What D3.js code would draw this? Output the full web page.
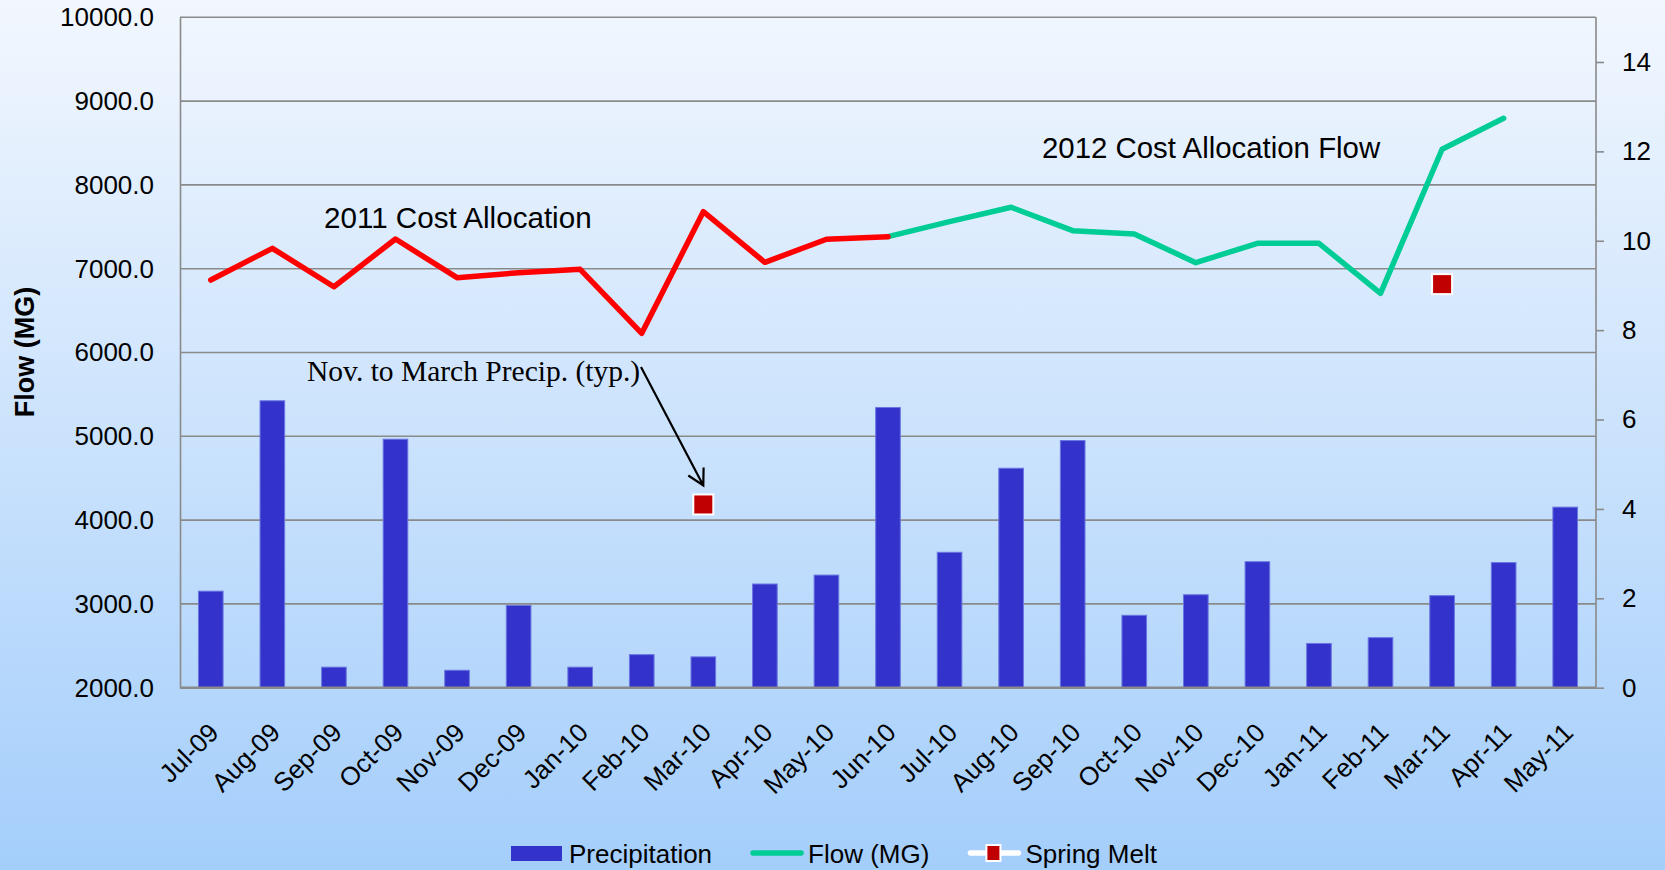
<!DOCTYPE html>
<meta charset="utf-8">
<style>
    body { margin:0; padding:0; }
    svg { display:block; font-family:'Liberation Sans', Arial, sans-serif; }
</style>
<body>
<script src="https://cdn.jsdelivr.net/npm/d3@7"></script>
<script>
var months = ["Jul-09","Aug-09","Sep-09","Oct-09","Nov-09","Dec-09","Jan-10","Feb-10","Mar-10","Apr-10",
    "May-10","Jun-10","Jul-10","Aug-10","Sep-10","Oct-10","Nov-10","Dec-10","Jan-11","Feb-11",
    "Mar-11","Apr-11","May-11"];
// precipitation, right axis
var precipitation = [2.16, 6.42, 0.46, 5.56, 0.39, 1.84, 0.46, 0.74, 0.69, 2.32,
    2.52, 6.27, 3.03, 4.91, 5.53, 1.62, 2.08, 2.82, 0.99, 1.12,
    2.06, 2.80, 4.04];
// flow (MG), left axis
var flowMG = [6865, 7243, 6785, 7354, 6893, 6952, 6993, 6229, 7680, 7076,
    7351, 7382, 7561, 7733, 7454, 7414, 7072, 7303, 7303, 6706,
    8425, 8795, null];
// Nov-Mar precipitation totals, right axis
var springMelt = [null, null, null, null, null, null, null, null, 4.10, null,
    null, null, null, null, null, null, null, null, null, null,
    9.03, null, null];
var split2011 = "Jun-10";   // 2011 cost allocation runs up to here
var leftTicks = [2000, 3000, 4000, 5000, 6000, 7000, 8000, 9000, 10000];
var rightTicks = [0, 2, 4, 6, 8, 10, 12, 14];
var legendItems = ["Precipitation", "Flow (MG)", "Spring Melt"];

var width = 1665, height = 870;
var pLeft = 180, pRight = 1596, pTop = 17.3, pBottom = 687.7;

var svg = d3.select("body").append("svg")
    .attr("width", width)
    .attr("height", height);

var defs = svg.append("defs");
var grad = defs.append("linearGradient").attr("id", "bg")
    .attr("x1", 0).attr("y1", 0).attr("x2", 0).attr("y2", 1);
grad.append("stop").attr("offset", "0%").attr("stop-color", "#f2f7fe");
grad.append("stop").attr("offset", "100%").attr("stop-color", "#a4cefb");

svg.append("rect")
    .attr("width", width).attr("height", height)
    .attr("fill", "url(#bg)");

var x = d3.scaleBand().domain(months).range([pLeft, pRight])
    .paddingInner(0.6).paddingOuter(0.3);
var yL = d3.scaleLinear().domain([2000, 10000]).range([pBottom, pTop]);
var yR = d3.scaleLinear().domain([0, 15]).range([pBottom, pTop]);
var cx = function(m) { return x(m) + x.bandwidth() / 2; };

// gridlines
svg.append("g").selectAll("line").data(leftTicks).join("line")
    .attr("x1", pLeft).attr("x2", pRight)
    .attr("y1", function(d) { return yL(d); })
    .attr("y2", function(d) { return yL(d); })
    .attr("stroke", "#8a8a8a").attr("stroke-width", 1.6);

// left axis
var gl = svg.append("g")
    .attr("transform", "translate(" + pLeft + ",0)")
    .call(d3.axisLeft(yL).tickValues(leftTicks).tickFormat(d3.format(".1f")).tickSize(0).tickPadding(26));
gl.select(".domain").attr("stroke", "#8a8a8a").attr("stroke-width", 1.6);
gl.selectAll("text").attr("font-size", 26).attr("fill", "#000")
    .attr("font-family", "'Liberation Sans', Arial, sans-serif");

// right axis
var gr = svg.append("g")
    .attr("transform", "translate(" + pRight + ",0)")
    .call(d3.axisRight(yR).tickValues(rightTicks).tickSize(8).tickPadding(18));
gr.select(".domain").attr("stroke", "#8a8a8a").attr("stroke-width", 1.6).attr("d", "M0," + pTop + "V" + pBottom);
gr.selectAll(".tick line").attr("stroke", "#8a8a8a").attr("stroke-width", 1.6);
gr.selectAll("text").attr("font-size", 26).attr("fill", "#000")
    .attr("font-family", "'Liberation Sans', Arial, sans-serif");

// bars
svg.append("g").selectAll("rect").data(months).join("rect")
    .attr("x", function(d) { return x(d); })
    .attr("width", x.bandwidth())
    .attr("y", function(d, i) { return yR(precipitation[i]); })
    .attr("height", function(d, i) { return pBottom - yR(precipitation[i]); })
    .attr("fill", "#3333cc")
    .attr("stroke", "#6a76e0").attr("stroke-width", 1);

// bottom axis
var gb = svg.append("g")
    .attr("transform", "translate(0," + pBottom + ")")
    .call(d3.axisBottom(x).tickSize(0));
gb.select(".domain").attr("stroke", "#8a8a8a").attr("stroke-width", 2.5)
    .attr("d", "M" + pLeft + ",0H" + pRight);
gb.selectAll("text")
    .attr("font-size", 26).attr("fill", "#000")
    .attr("font-family", "'Liberation Sans', Arial, sans-serif")
    .attr("text-anchor", "end")
    .attr("transform", "translate(3,40) rotate(-45)")
    .attr("dy", "0.35em").attr("y", 0);

// flow lines
var pts = months.map(function(m, i) { return { m: m, v: flowMG[i] }; })
    .filter(function(d) { return d.v != null; });
var splitIdx = months.indexOf(split2011);
var line = d3.line().x(function(d) { return cx(d.m); }).y(function(d) { return yL(d.v); });
svg.append("path").datum(pts.slice(splitIdx))
    .attr("d", line).attr("fill", "none")
    .attr("stroke", "#00cc96").attr("stroke-width", 5.5)
    .attr("stroke-linejoin", "round").attr("stroke-linecap", "round");
svg.append("path").datum(pts.slice(0, splitIdx + 1))
    .attr("d", line).attr("fill", "none")
    .attr("stroke", "#ff0000").attr("stroke-width", 5.5)
    .attr("stroke-linejoin", "round").attr("stroke-linecap", "round");

// spring melt markers
var melt = months.map(function(m, i) { return { m: m, v: springMelt[i] }; })
    .filter(function(d) { return d.v != null; });
svg.append("g").selectAll("rect").data(melt).join("rect")
    .attr("x", function(d) { return cx(d.m) - 10; })
    .attr("y", function(d) { return yR(d.v) - 10; })
    .attr("width", 20).attr("height", 20)
    .attr("fill", "#c00000").attr("stroke", "#ffffff").attr("stroke-width", 2);

// annotations
svg.append("text").attr("x", 324).attr("y", 228)
    .attr("font-size", 29.6).text("2011 Cost Allocation");
svg.append("text").attr("x", 1042).attr("y", 158)
    .attr("font-size", 29.4).text("2012 Cost Allocation Flow");
svg.append("text").attr("x", 307).attr("y", 381)
    .attr("font-family", "'Liberation Serif', 'Times New Roman', serif")
    .attr("font-size", 29.5).text("Nov. to March Precip. (typ.)");

var tip = [cx(melt[0].m), yR(melt[0].v) - 19];
var tail = [641, 367];
var ang = Math.atan2(tip[1] - tail[1], tip[0] - tail[0]);
var headLen = 18, spread = 0.5;
svg.append("path")
    .attr("d", "M" + tail + "L" + tip +
        "M" + [tip[0] - headLen * Math.cos(ang - spread), tip[1] - headLen * Math.sin(ang - spread)] +
        "L" + tip +
        "L" + [tip[0] - headLen * Math.cos(ang + spread), tip[1] - headLen * Math.sin(ang + spread)])
    .attr("fill", "none").attr("stroke", "#000").attr("stroke-width", 2.2);

// y title
svg.append("text")
    .attr("transform", "translate(34,352) rotate(-90)")
    .attr("text-anchor", "middle")
    .attr("font-size", 27).attr("font-weight", "bold")
    .text("Flow (MG)");

// legend
var legend = svg.append("g").attr("font-size", 26);
var lx = 511, ly = 853;
legendItems.forEach(function(name, i) {
    var g = legend.append("g").attr("transform", "translate(" + lx + "," + ly + ")");
    if (i === 0) {
        g.append("rect").attr("x", 0).attr("y", -7).attr("width", 51).attr("height", 15).attr("fill", "#3333cc");
    } else if (i === 1) {
        g.append("line").attr("x1", 3).attr("x2", 51).attr("y1", 0).attr("y2", 0)
            .attr("stroke", "#00cc96").attr("stroke-width", 5.5).attr("stroke-linecap", "round");
    } else {
        g.append("line").attr("x1", 3).attr("x2", 51).attr("y1", 0).attr("y2", 0)
            .attr("stroke", "#ffffff").attr("stroke-width", 5.5).attr("stroke-linecap", "round");
        g.append("rect").attr("x", 19).attr("y", -8).attr("width", 14).attr("height", 16)
            .attr("fill", "#c00000").attr("stroke", "#ffffff").attr("stroke-width", 2);
    }
    var t = g.append("text").attr("x", 58).attr("y", 10).text(name);
    lx += 58 + t.node().getComputedTextLength() + 38;
});
</script>
</body>
